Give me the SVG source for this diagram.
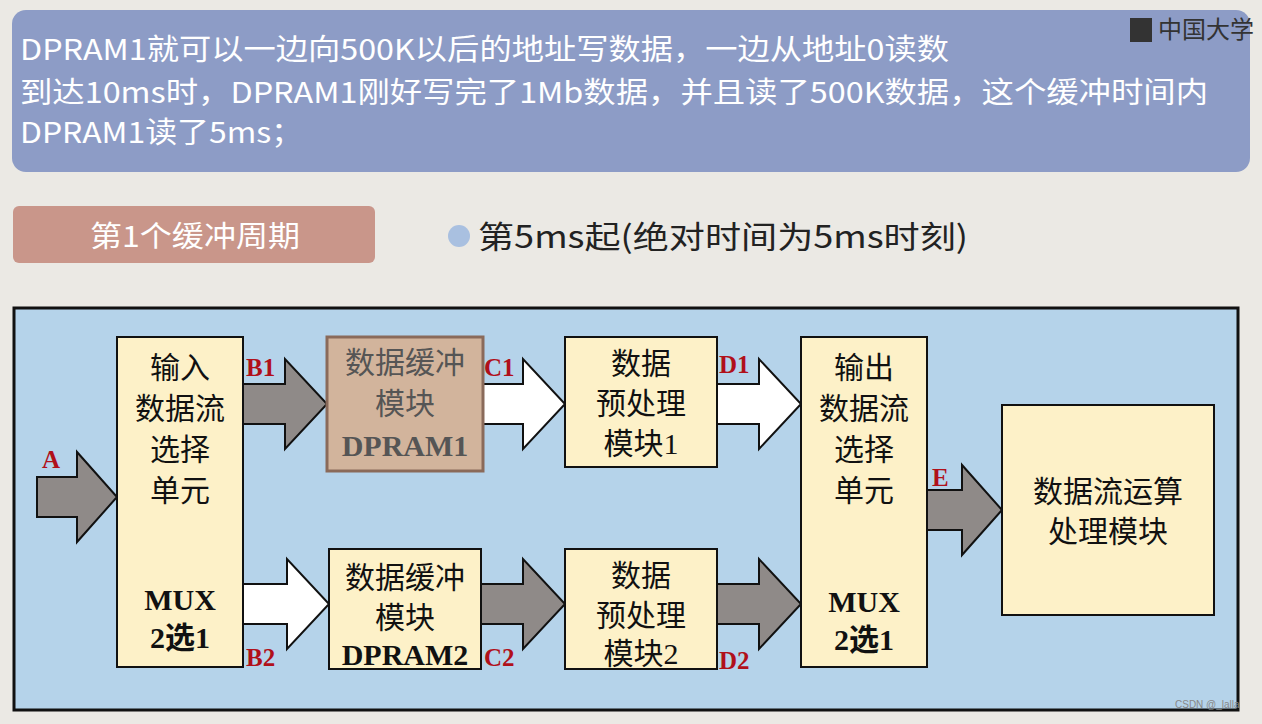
<svg xmlns="http://www.w3.org/2000/svg" width="1262" height="724" viewBox="0 0 1262 724">
<style>
.bx{fill:#fdf1c8;stroke:#111;stroke-width:2}
.t{font-family:"Liberation Serif","Noto Sans CJK SC",serif;font-size:30px;fill:#111;text-anchor:middle}
.b{font-weight:bold}
.g{fill:#8f8a88;stroke:#111;stroke-width:2}
.w{fill:#fff;stroke:#111;stroke-width:2}
.lb{font-family:"Liberation Serif",serif;font-weight:bold;font-size:25px;fill:#b0101a}
.hd{font-family:"Noto Sans CJK SC","Noto Sans",sans-serif;font-size:29px;fill:#fff}
</style>
<rect width="1262" height="724" fill="#ebe9e4"/>
<rect x="12" y="10" width="1238" height="162" rx="14" fill="#8d9cc6"/>
<text class="hd" x="20" y="60" textLength="929" lengthAdjust="spacingAndGlyphs">DPRAM1就可以一边向500K以后的地址写数据，一边从地址0读数</text>
<text class="hd" x="20" y="103" textLength="1188" lengthAdjust="spacingAndGlyphs">到达10ms时，DPRAM1刚好写完了1Mb数据，并且读了500K数据，这个缓冲时间内</text>
<text class="hd" x="20" y="143" textLength="283" lengthAdjust="spacingAndGlyphs">DPRAM1读了5ms；</text>
<text x="1158" y="38" font-family="Noto Sans CJK SC,sans-serif" font-size="24" fill="#333">中国大学</text>
<rect x="1130" y="18" width="22" height="24" fill="#333"/>
<rect x="13" y="206" width="362" height="57" rx="6" fill="#c9968a"/>
<text x="90" y="247" textLength="210" lengthAdjust="spacingAndGlyphs" font-family="Noto Sans CJK SC,sans-serif" font-size="29" fill="#fff">第1个缓冲周期</text>
<circle cx="459" cy="236" r="11" fill="#a9c0e0"/>
<text x="478" y="248" textLength="490" lengthAdjust="spacingAndGlyphs" font-family="Noto Sans CJK SC,sans-serif" font-size="31" fill="#222">第5ms起(绝对时间为5ms时刻)</text>
<rect x="14" y="308" width="1224" height="402" fill="#b5d3ea" stroke="#111" stroke-width="3"/>
<g id="connectors">
<path class="g" d="M37,477 L77,477 L77,452 L117,497 L77,542 L77,517 L37,517 Z"/>
<path class="g" d="M243,384 L285,384 L285,359 L327,404 L285,449 L285,424 L243,424 Z"/>
<path class="w" d="M483,384 L523,384 L523,359 L565,404 L523,449 L523,424 L483,424 Z"/>
<path class="w" d="M717,384 L759,384 L759,359 L801,404 L759,449 L759,424 L717,424 Z"/>
<path class="w" d="M243,584 L287,584 L287,559 L329,604 L287,649 L287,624 L243,624 Z"/>
<path class="g" d="M481,584 L523,584 L523,559 L565,604 L523,649 L523,624 L481,624 Z"/>
<path class="g" d="M717,584 L759,584 L759,559 L801,604 L759,649 L759,624 L717,624 Z"/>
<path class="g" d="M927,490 L962,490 L962,465 L1002,510 L962,555 L962,530 L927,530 Z"/>
<text class="lb" x="42" y="468">A</text>
<text class="lb" x="246" y="376">B1</text>
<text class="lb" x="484" y="376">C1</text>
<text class="lb" x="719" y="373">D1</text>
<text class="lb" x="246" y="666">B2</text>
<text class="lb" x="484" y="666">C2</text>
<text class="lb" x="719" y="669">D2</text>
<text class="lb" x="932" y="486">E</text>
</g>
<g id="mux_in"><rect class="bx" x="117" y="337" width="126" height="330"/>
<text class="t" x="180" y="378">输入</text><text class="t" x="180" y="419">数据流</text><text class="t" x="180" y="460">选择</text><text class="t" x="180" y="501">单元</text>
<text class="t b" x="180" y="610">MUX</text><text class="t b" x="180" y="648">2选1</text></g>
<g id="dpram1"><rect x="327" y="337" width="156" height="134" fill="#d2b49c" stroke="#8a6a5a" stroke-width="3"/>
<text class="t" x="405" y="373" style="fill:#555">数据缓冲</text><text class="t" x="405" y="414" style="fill:#555">模块</text><text class="t b" x="405" y="456" style="fill:#555">DPRAM1</text></g>
<g id="pre1"><rect class="bx" x="565" y="337" width="152" height="130"/>
<text class="t" x="641" y="374">数据</text><text class="t" x="641" y="414">预处理</text><text class="t" x="641" y="454">模块1</text></g>
<g id="mux_out"><rect class="bx" x="801" y="337" width="126" height="330"/>
<text class="t" x="864" y="378">输出</text><text class="t" x="864" y="419">数据流</text><text class="t" x="864" y="460">选择</text><text class="t" x="864" y="501">单元</text>
<text class="t b" x="864" y="612">MUX</text><text class="t b" x="864" y="650">2选1</text></g>
<g id="compute"><rect class="bx" x="1002" y="405" width="212" height="210"/>
<text class="t" x="1108" y="502">数据流运算</text><text class="t" x="1108" y="542">处理模块</text></g>
<g id="dpram2"><rect class="bx" x="329" y="549" width="152" height="120"/>
<text class="t" x="405" y="588">数据缓冲</text><text class="t" x="405" y="628">模块</text><text class="t b" x="405" y="665">DPRAM2</text></g>
<g id="pre2"><rect class="bx" x="565" y="549" width="152" height="120"/>
<text class="t" x="641" y="586">数据</text><text class="t" x="641" y="626">预处理</text><text class="t" x="641" y="664">模块2</text></g>
<text x="1175" y="708" font-family="Liberation Sans,sans-serif" font-size="10" fill="#888">CSDN @_lalla</text>
</svg>
